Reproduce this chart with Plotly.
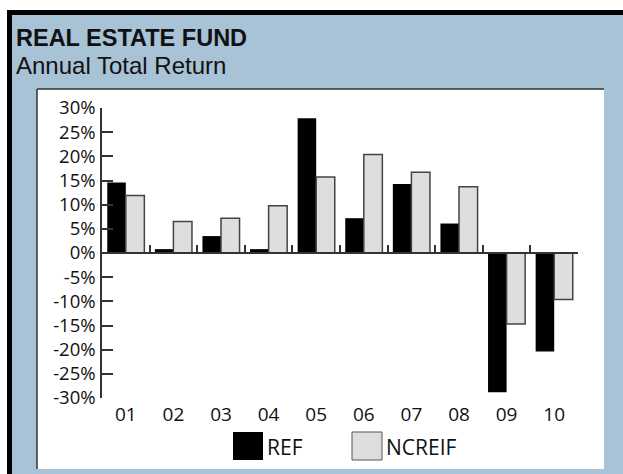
import plotly.graph_objects as go

# Annual total return by year (%)
years = ["01", "02", "03", "04", "05", "06", "07", "08", "09", "10"]
ref_returns = [14.6, 0.8, 3.5, 0.8, 27.9, 7.2, 14.3, 6.1, -28.8, -20.4]
ncreif_returns = [11.9, 6.5, 7.2, 9.8, 15.7, 20.4, 16.7, 13.7, -14.7, -9.6]
y_ticks = [-30, -25, -20, -15, -10, -5, 0, 5, 10, 15, 20, 25, 30]
y_tick_labels = [f"{v}%" for v in y_ticks]

W, H = 623, 474
ML, MR, MT, MB = 102, 45, 108, 76
PW, PH = W - ML - MR, H - MT - MB


def px(x):
    return (x - ML) / PW


def py(y):
    return (H - MB - y) / PH


idx = list(range(len(years)))

fig = go.Figure()
fig.add_trace(go.Bar(
    x=idx, y=ref_returns, name="REF",
    marker=dict(color="#000000", line=dict(width=0)),
))
fig.add_trace(go.Bar(
    x=idx, y=ncreif_returns, name="NCREIF",
    marker=dict(color="#dedede", line=dict(color="#444444", width=1.5)),
))
# carrier for the zero-line axis with boundary ticks
fig.add_trace(go.Scatter(x=[], y=[], xaxis="x2", showlegend=False, hoverinfo="skip"))

fig.update_layout(
    width=W, height=H,
    margin=dict(l=ML, r=MR, t=MT, b=MB),
    paper_bgcolor="white", plot_bgcolor="rgba(0,0,0,0)",
    barmode="group", bargap=0.22, bargroupgap=0,
    showlegend=False,
    xaxis=dict(
        range=[-0.5, len(years) - 0.5], tickvals=idx, ticktext=years,
        showline=False, ticks="", showgrid=False, zeroline=False,
        tickfont=dict(family="Open Sans", size=19, color="#111111"),
        ticklabelstandoff=3, fixedrange=True,
    ),
    xaxis2=dict(
        overlaying="x", matches="x", anchor="free", position=0.5,
        range=[-0.5, len(years) - 0.5],
        tickvals=[i + 0.5 for i in idx], showticklabels=False,
        ticks="inside", ticklen=7, tickwidth=1.5, tickcolor="#333333",
        showline=True, linecolor="#333333", linewidth=1.5,
        showgrid=False, zeroline=False,
    ),
    yaxis=dict(
        range=[-30, 30], tickvals=y_ticks, ticktext=y_tick_labels,
        ticks="inside", ticklen=11, tickwidth=1.5, tickcolor="#333333",
        showline=True, linecolor="#333333", linewidth=1.5,
        showgrid=False, zeroline=False,
        tickfont=dict(family="Open Sans", size=18.5, color="#111111"),
        ticklabelstandoff=1,
    ),
)

shapes = [
    # black frame
    dict(type="rect", x0=px(7), x1=px(640), y0=py(10), y1=py(490),
         fillcolor="#000000", line=dict(width=0)),
    # blue backdrop
    dict(type="rect", x0=px(12), x1=px(640), y0=py(15), y1=py(490),
         fillcolor="#a8c2d6", line=dict(width=0)),
    # white chart panel
    dict(type="rect", x0=px(37), x1=px(604), y0=py(89), y1=py(469),
         fillcolor="#ffffff", line=dict(width=0)),
    dict(type="line", x0=px(37), x1=px(604), y0=py(89), y1=py(89),
         line=dict(color="#333333", width=1.5)),
    dict(type="line", x0=px(37), x1=px(37), y0=py(89), y1=py(469),
         line=dict(color="#333333", width=1.5)),
    # legend swatches
    dict(type="rect", x0=px(233), x1=px(263), y0=py(432), y1=py(460),
         fillcolor="#000000", line=dict(width=0)),
    dict(type="rect", x0=px(352), x1=px(382), y0=py(432), y1=py(460),
         fillcolor="#dedede", line=dict(color="#555555", width=1)),
]
for s in shapes:
    s.update(xref="paper", yref="paper", layer="below")
fig.update_layout(shapes=shapes)

annotations = [
    dict(text="<b>REAL ESTATE FUND</b>", x=px(14), y=py(38),
         font=dict(family="Liberation Sans", size=23.5, color="#111111")),
    dict(text="Annual Total Return", x=px(14), y=py(66),
         font=dict(family="Liberation Sans", size=24, color="#111111")),
    dict(text="REF", x=px(265), y=py(447),
         font=dict(family="Open Sans", size=21, color="#111111")),
    dict(text="NCREIF", x=px(384), y=py(447),
         font=dict(family="Open Sans", size=21, color="#111111")),
]
for a in annotations:
    a.update(xref="paper", yref="paper", xanchor="left", yanchor="middle",
             showarrow=False)
fig.update_layout(annotations=annotations)

fig.write_html("out.html")
